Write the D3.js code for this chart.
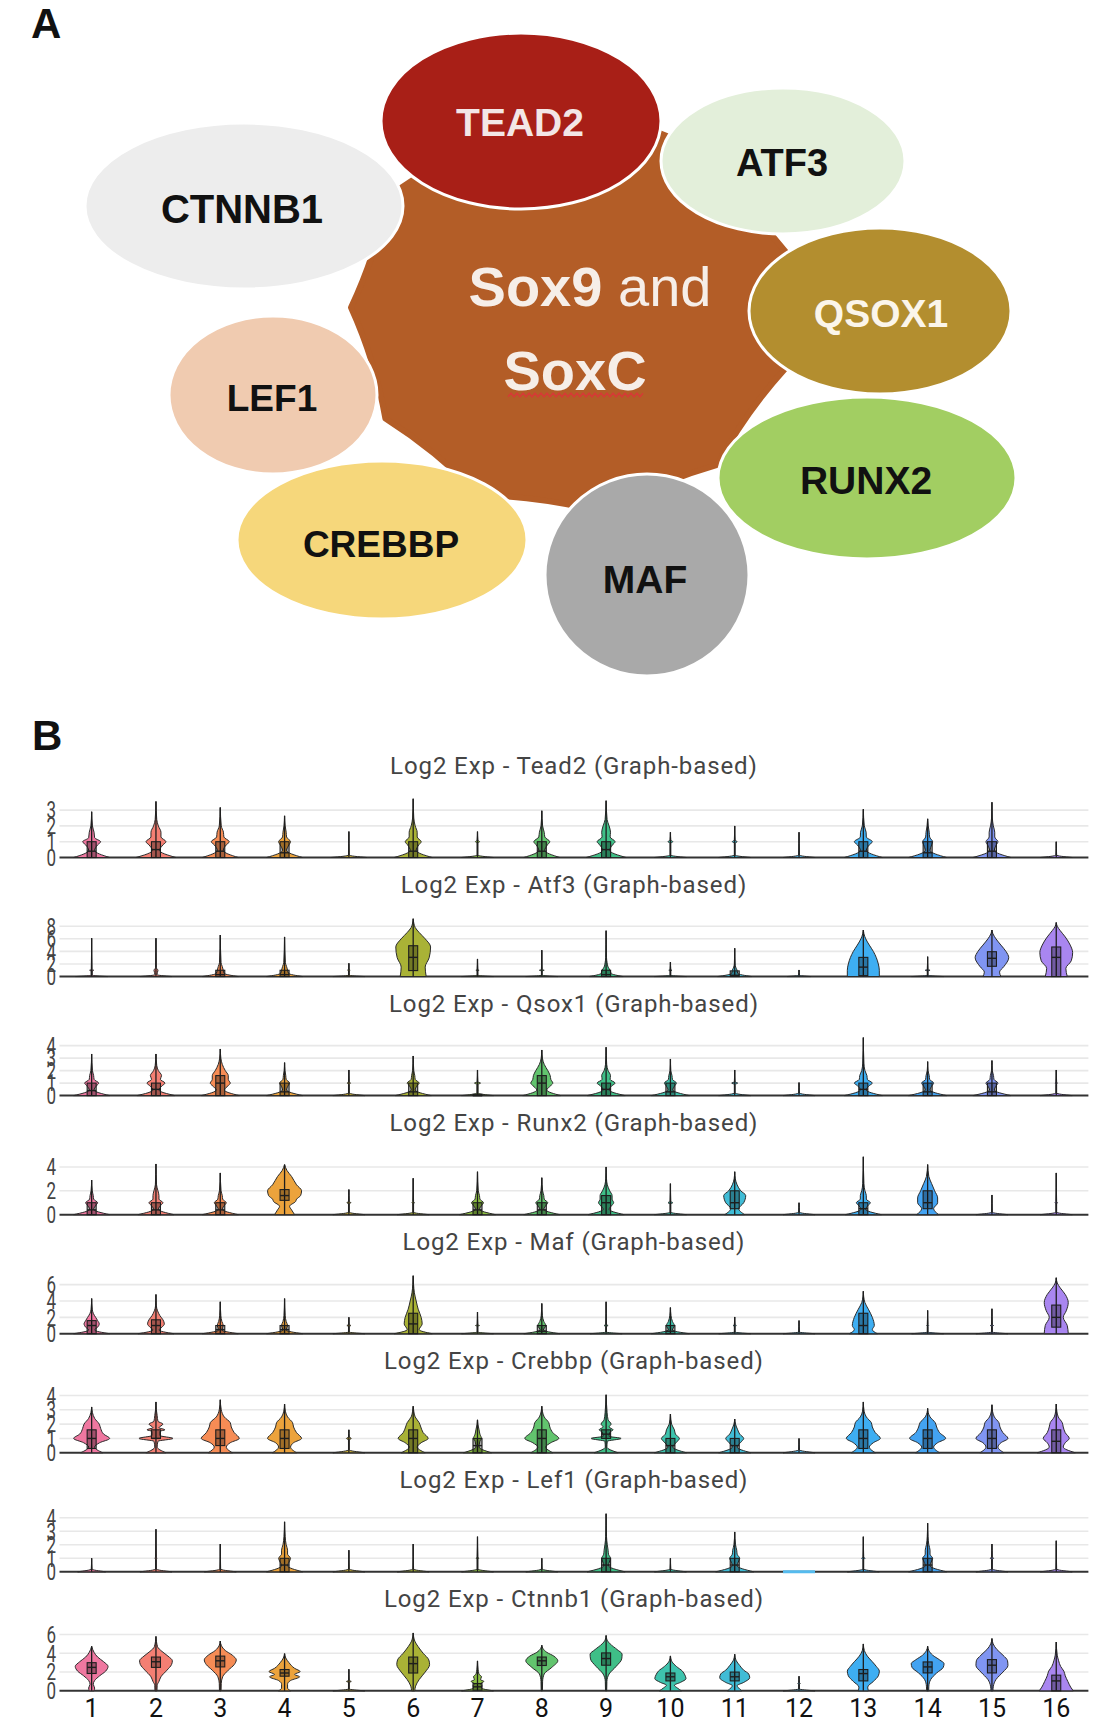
<!DOCTYPE html>
<html>
<head>
<meta charset="utf-8">
<script src="https://cdn.jsdelivr.net/npm/d3@7"></script>
<style>
body{margin:0;background:#fff}
svg{display:block}
</style>
</head>
<body>
<script>
// ---------- panel A : genes around Sox9/SoxC ----------
const hubTitle = ["Sox9", " and", "SoxC"];
const partnerGenes = ["CTNNB1", "LEF1", "CREBBP", "RUNX2", "MAF", "QSOX1", "ATF3", "TEAD2"];

// ---------- panel B : violin data ----------
const clusters = d3.range(1, 17).map(String);
const geneTitles = ["Tead2", "Atf3", "Qsox1", "Runx2", "Maf", "Crebbp", "Lef1", "Ctnnb1"];
const yTicks = [[0,1,2,3],[0,2,4,6,8],[0,1,2,3,4],[0,2,4],[0,2,4,6],[0,1,2,3,4],[0,1,2,3,4],[0,2,4,6]];
const yMax = [3.8, 9.54, 4.8, 5.03, 7.34, 4.19, 4.44, 6.39];

// each violin: [max, q1, median, q3, then pairs of (log2 value, relative half width)]
const tead2 = [
 [2.9, 0,0.4,1, 0,0.9, 0.45,0.15, 0.8,0.3, 1,0.45, 1.25,0.15, 1.6,0.12, 2,0.04],
 [3.55, 0,0.5,1, 0,1, 0.45,0.18, 0.8,0.35, 1,0.5, 1.3,0.25, 1.6,0.25, 2,0.12, 2.4,0.04],
 [3.17, 0,0.4,1, 0,0.9, 0.45,0.15, 0.8,0.3, 1,0.45, 1.3,0.18, 1.6,0.16, 2,0.05],
 [2.64, 0,0.3,1, 0,0.9, 0.45,0.1, 0.8,0.22, 1,0.3, 1.3,0.1, 1.6,0.08, 2,0.03],
 [1.64, 0,0,0, 0,0.9, 0.15,0.02],
 [3.72, 0,0.4,1, 0,0.95, 0.45,0.15, 0.8,0.28, 1,0.4, 1.3,0.2, 1.6,0.2, 2,0.1, 2.5,0.03],
 [1.64, 0,0,0, 0,0.8, 0.15,0.02, 0.9,0.02, 1,0.1, 1.1,0.02],
 [2.96, 0,0.4,1, 0,0.9, 0.45,0.15, 0.8,0.28, 1,0.4, 1.3,0.15, 1.6,0.12, 2,0.04],
 [3.6, 0,0.5,1, 0,1, 0.45,0.18, 0.8,0.32, 1,0.45, 1.3,0.2, 1.6,0.22, 2,0.15, 2.4,0.05],
 [1.6, 0,0,0, 0,0.8, 0.15,0.02, 0.9,0.02, 1,0.12, 1.1,0.02],
 [2.0, 0,0,0, 0,0.8, 0.15,0.02, 0.9,0.02, 1,0.12, 1.1,0.02],
 [1.6, 0,0,0, 0,0.8, 0.15,0.02],
 [3.06, 0,0.4,1, 0,0.95, 0.45,0.15, 0.8,0.3, 1,0.45, 1.3,0.15, 1.6,0.14, 2,0.05],
 [2.45, 0,0.3,1, 0,0.95, 0.45,0.12, 0.8,0.2, 1,0.25, 1.3,0.1, 1.6,0.08, 2,0.03],
 [3.5, 0,0.4,1, 0,0.95, 0.45,0.12, 0.8,0.22, 1,0.3, 1.3,0.14, 1.6,0.14, 2,0.07, 2.5,0.02],
 [1.0, 0,0,0, 0,0.8, 0.15,0.02]
];
const atf3 = [
 [6.1, 0,0,0, 0,0.8, 0.2,0.03, 0.9,0.03, 1,0.1, 1.1,0.02],
 [6.1, 0,0,0, 0,0.8, 0.3,0.05, 1,0.1, 1.4,0.02],
 [6.6, 0,0.3,1, 0,0.9, 0.5,0.2, 1,0.15, 1.6,0.1, 2.2,0.04],
 [6.3, 0,0.3,1, 0,0.9, 0.5,0.2, 1,0.15, 1.6,0.1, 2.2,0.04],
 [2.1, 0,0,0, 0,0.8, 0.2,0.02, 0.9,0.02, 1,0.06, 1.2,0.01],
 [9.2, 0.95,3.05,4.9, 0,0.65, 1.5,0.6, 3,0.8, 4.7,0.87, 6,0.6, 7,0.3, 7.8,0.1, 8.5,0.03],
 [2.8, 0,0,0, 0,0.8, 0.2,0.02, 0.9,0.02, 1,0.08, 1.1,0.02],
 [4.2, 0,0,0, 0,0.8, 0.2,0.02, 0.9,0.02, 1,0.12, 1.1,0.02],
 [7.3, 0,0.3,1, 0,0.85, 0.5,0.25, 1,0.2, 1.5,0.1, 2.2,0.05, 3,0.02],
 [2.3, 0,0,0, 0,0.8, 0.2,0.02, 0.9,0.02, 1,0.08, 1.1,0.02],
 [4.5, 0,0.2,0.9, 0,0.85, 0.5,0.15, 1,0.12, 1.5,0.05, 2,0.02],
 [1.05, 0,0,0, 0,0.6, 0.2,0.02],
 [7.4, 0.15,1.5,3.05, 0,0.8, 1,0.8, 2,0.75, 3,0.65, 4,0.5, 5,0.3, 6,0.12, 6.8,0.03],
 [3.16, 0,0,0, 0,0.8, 0.2,0.02, 0.9,0.02, 1,0.12, 1.1,0.02],
 [7.4, 1.63,2.9,3.95, 0,0.45, 0.7,0.38, 1.6,0.6, 3,0.84, 4,0.7, 5,0.45, 6,0.2, 6.8,0.05],
 [8.6, 0,3.05,4.7, 0,0.55, 1.3,0.48, 2.5,0.75, 3.8,0.82, 5,0.7, 6.3,0.45, 7.3,0.2, 8,0.05]
];
const qsox1 = [
 [3.33, 0,0.4,1, 0,0.9, 0.45,0.12, 0.8,0.25, 1,0.35, 1.3,0.12, 1.6,0.1, 2,0.04],
 [3.33, 0,0.5,1, 0,0.95, 0.45,0.15, 0.8,0.32, 1,0.45, 1.3,0.22, 1.6,0.28, 2,0.12, 2.4,0.04],
 [3.73, 0,1,1.6, 0,0.95, 0.45,0.2, 0.8,0.4, 1,0.5, 1.3,0.4, 1.6,0.4, 2,0.25, 2.5,0.1, 3,0.03],
 [2.64, 0,0.3,1, 0,0.9, 0.45,0.1, 0.8,0.18, 1,0.25, 1.3,0.08, 1.6,0.06, 2,0.02],
 [2.05, 0,0,0, 0,0.8, 0.2,0.02, 0.9,0.02, 1,0.08, 1.1,0.02],
 [3.17, 0,0.3,1, 0,0.9, 0.45,0.1, 0.8,0.2, 1,0.3, 1.3,0.1, 1.6,0.08, 2,0.03],
 [2.05, 0,0,0.1, 0,0.8, 0.2,0.03, 0.9,0.03, 1,0.15, 1.1,0.02],
 [3.65, 0,1,1.6, 0,0.95, 0.45,0.25, 0.8,0.45, 1,0.55, 1.3,0.45, 1.6,0.42, 2,0.3, 2.5,0.12, 3,0.03],
 [3.87, 0,0.5,1, 0,0.95, 0.45,0.15, 0.8,0.3, 1,0.45, 1.3,0.2, 1.6,0.22, 2,0.1, 2.5,0.03],
 [2.93, 0,0.3,1, 0,0.95, 0.45,0.12, 0.8,0.22, 1,0.3, 1.3,0.1, 1.6,0.08, 2,0.02],
 [2.05, 0,0,0, 0,0.8, 0.2,0.02, 0.9,0.02, 1,0.15, 1.1,0.02],
 [1.04, 0,0,0, 0,0.8, 0.2,0.02],
 [4.64, 0,0.5,1, 0,0.95, 0.45,0.15, 0.8,0.3, 1,0.45, 1.3,0.2, 1.6,0.18, 2,0.08, 2.6,0.03],
 [2.72, 0,0.3,1, 0,0.95, 0.45,0.12, 0.8,0.22, 1,0.3, 1.3,0.1, 1.6,0.08, 2,0.02],
 [2.8, 0,0.3,1, 0,0.95, 0.45,0.12, 0.8,0.22, 1,0.3, 1.3,0.1, 1.6,0.08, 2,0.02],
 [2.05, 0,0,0, 0,0.8, 0.2,0.02, 0.9,0.02, 1,0.05, 1.1,0.02]
];
const runx2 = [
 [2.9, 0,0.4,1, 0,0.9, 0.45,0.1, 0.8,0.22, 1,0.3, 1.3,0.1, 1.6,0.08, 2,0.03],
 [4.25, 0,0.4,1, 0,0.9, 0.45,0.12, 0.8,0.25, 1,0.35, 1.3,0.15, 1.6,0.15, 2,0.1, 2.5,0.03],
 [3.5, 0,0.4,1, 0,0.9, 0.45,0.1, 0.8,0.22, 1,0.3, 1.3,0.12, 1.6,0.1, 2,0.04],
 [4.2, 1.2,1.6,2.1, 0,0.5, 0.4,0.35, 0.7,0.25, 1.1,0.55, 1.3,0.6, 1.6,0.8, 2,0.85, 2.5,0.6, 3.2,0.35, 3.7,0.12],
 [2.1, 0,0,0, 0,0.8, 0.2,0.02, 0.9,0.02, 1,0.1, 1.1,0.02],
 [3.05, 0,0,0, 0,0.8, 0.2,0.02, 0.9,0.02, 1,0.06, 1.1,0.02],
 [3.6, 0,0.4,1, 0,0.9, 0.45,0.1, 0.8,0.22, 1,0.3, 1.3,0.12, 1.6,0.1, 2,0.04],
 [3.1, 0,0.4,1, 0,0.9, 0.45,0.1, 0.8,0.22, 1,0.3, 1.3,0.12, 1.6,0.1, 2,0.04],
 [4.0, 0,1,1.6, 0,0.9, 0.45,0.15, 0.8,0.3, 1,0.38, 1.3,0.3, 1.6,0.3, 2,0.18, 2.5,0.06, 3,0.02],
 [2.6, 0,0,0, 0,0.8, 0.2,0.02, 0.9,0.02, 1,0.12, 1.1,0.02],
 [3.6, 0.5,1,2, 0,0.5, 0.5,0.2, 1,0.45, 1.6,0.55, 2,0.3, 2.5,0.12, 3,0.03],
 [1.0, 0,0,0, 0,0.8, 0.2,0.02],
 [4.85, 0,0.5,1, 0,0.9, 0.45,0.12, 0.8,0.25, 1,0.35, 1.3,0.15, 1.6,0.15, 2,0.08, 2.6,0.03],
 [4.2, 0.5,1,2, 0,0.55, 0.5,0.3, 1,0.5, 1.4,0.5, 2,0.35, 2.6,0.2, 3.2,0.06],
 [1.65, 0,0,0, 0,0.8, 0.2,0.02],
 [3.5, 0,0,0, 0,0.8, 0.2,0.02, 0.9,0.02, 1,0.06, 1.1,0.02]
];
const maf = [
 [4.3, 0,1,1.6, 0,0.9, 0.45,0.15, 0.8,0.3, 1.2,0.38, 1.6,0.3, 2,0.2, 2.5,0.08, 3,0.03],
 [4.8, 0,1,1.7, 0,0.9, 0.45,0.15, 0.8,0.3, 1.2,0.42, 1.7,0.35, 2.2,0.2, 2.8,0.08, 3.4,0.02],
 [3.9, 0,0.5,1, 0,0.9, 0.45,0.08, 1,0.15, 1.5,0.08, 2.2,0.03],
 [4.3, 0,0.5,1, 0,0.9, 0.45,0.08, 1,0.15, 1.5,0.08, 2.2,0.03],
 [2.0, 0,0,0, 0,0.8, 0.2,0.02, 0.9,0.02, 1,0.1, 1.1,0.02],
 [7.1, 0,1.2,2.5, 0,0.95, 0.5,0.3, 1.2,0.45, 2,0.4, 3,0.25, 4,0.15, 5,0.06, 6,0.02],
 [2.65, 0,0,0, 0,0.8, 0.2,0.02, 0.9,0.02, 1,0.1, 1.1,0.02],
 [3.7, 0,0.3,1, 0,0.9, 0.45,0.08, 1,0.2, 1.5,0.1, 2.2,0.03],
 [3.9, 0,0,0, 0,0.8, 0.2,0.02, 0.9,0.02, 1,0.1, 1.1,0.02],
 [3.2, 0,0.3,1, 0,0.95, 0.45,0.1, 1,0.2, 1.5,0.1, 2.2,0.03],
 [2.05, 0,0,0, 0,0.8, 0.2,0.02, 0.9,0.02, 1,0.08, 1.1,0.02],
 [1.6, 0,0,0, 0,0.8, 0.2,0.02],
 [5.2, 0,1,2.5, 0,0.7, 0.5,0.45, 1,0.55, 2,0.45, 3,0.25, 3.8,0.08, 4.5,0.02],
 [2.85, 0,0,0, 0,0.8, 0.2,0.02, 0.9,0.02, 1,0.05, 1.1,0.02],
 [3.05, 0,0,0, 0,0.8, 0.2,0.02, 0.9,0.02, 1,0.08, 1.1,0.02],
 [6.85, 0.8,2,3.5, 0,0.6, 1,0.55, 2,0.35, 2.8,0.5, 3.8,0.6, 4.8,0.45, 5.6,0.2, 6.2,0.05]
];
const crebbp = [
 [3.2, 0.3,1,1.6, 0,0.55, 0.4,0.15, 0.7,0.4, 1,0.9, 1.3,0.6, 1.7,0.45, 2,0.38, 2.4,0.15, 2.8,0.04],
 [3.55, 1,1,1.6, 0,0.5, 0.4,0.06, 0.8,0.1, 1,0.85, 1.2,0.2, 1.5,0.2, 1.6,0.45, 1.75,0.15, 2,0.35, 2.2,0.1, 2.6,0.06, 3,0.02],
 [3.7, 0.5,1,1.6, 0,0.6, 0.4,0.3, 0.7,0.5, 1,0.95, 1.4,0.7, 1.8,0.55, 2.1,0.5, 2.5,0.2, 3,0.05],
 [3.4, 0.3,1,1.6, 0,0.6, 0.4,0.3, 0.7,0.45, 1,0.85, 1.4,0.6, 1.8,0.45, 2.1,0.4, 2.5,0.15, 2.9,0.04],
 [1.6, 0,0,0, 0,0.8, 0.2,0.02, 0.9,0.02, 1,0.12, 1.1,0.02],
 [3.25, 0,1,1.6, 0,0.6, 0.4,0.2, 0.7,0.4, 1,0.75, 1.4,0.5, 1.8,0.38, 2.1,0.3, 2.5,0.1, 2.9,0.03],
 [2.3, 0,0.5,1, 0,0.7, 0.4,0.08, 0.8,0.12, 1,0.2, 1.3,0.12, 1.6,0.08, 2,0.02],
 [3.25, 0,1,1.6, 0,0.55, 0.4,0.2, 0.7,0.45, 1,0.85, 1.4,0.55, 1.8,0.4, 2.1,0.35, 2.5,0.12, 2.9,0.03],
 [4.05, 1,1.3,1.6, 0,0.6, 0.4,0.04, 0.8,0.06, 1,0.75, 1.15,0.15, 1.45,0.2, 1.6,0.35, 1.8,0.15, 2,0.25, 2.3,0.1, 2.8,0.05, 3.4,0.02],
 [2.7, 0,0.5,1, 0,0.8, 0.4,0.12, 0.8,0.35, 1,0.45, 1.3,0.25, 1.6,0.2, 2,0.06],
 [2.35, 0,0.5,1, 0,0.8, 0.4,0.12, 0.8,0.35, 1,0.45, 1.3,0.25, 1.6,0.15, 2,0.04],
 [1.0, 0,0,0, 0,0.8, 0.2,0.02],
 [3.55, 0.3,1,1.6, 0,0.6, 0.4,0.3, 0.7,0.5, 1,0.85, 1.4,0.6, 1.8,0.45, 2.1,0.4, 2.5,0.15, 2.9,0.04],
 [3.1, 0.3,1,1.6, 0,0.6, 0.4,0.3, 0.7,0.5, 1,0.9, 1.4,0.6, 1.8,0.45, 2.1,0.38, 2.5,0.12, 2.8,0.03],
 [3.35, 0.3,1,1.6, 0,0.6, 0.4,0.3, 0.7,0.45, 1,0.8, 1.4,0.55, 1.8,0.4, 2.1,0.35, 2.5,0.12, 2.9,0.03],
 [3.4, 0,0.8,1.6, 0,0.95, 0.4,0.35, 0.7,0.45, 1,0.65, 1.4,0.45, 1.8,0.35, 2.1,0.3, 2.5,0.1, 2.9,0.03]
];
const lef1 = [
 [1.0, 0,0,0, 0,0.7, 0.2,0.02],
 [3.15, 0,0,0, 0,0.8, 0.2,0.02, 0.9,0.02, 1,0.04, 1.1,0.02],
 [2.05, 0,0,0, 0,0.8, 0.2,0.02],
 [3.7, 0,0.5,1, 0,0.9, 0.45,0.15, 0.8,0.25, 1,0.3, 1.3,0.15, 1.6,0.15, 2,0.08, 2.6,0.03],
 [1.6, 0,0,0, 0,0.8, 0.2,0.02],
 [2.05, 0,0,0, 0,0.8, 0.2,0.02],
 [2.6, 0,0,0, 0,0.8, 0.2,0.02, 0.9,0.02, 1,0.06, 1.1,0.02],
 [1.0, 0,0,0, 0,0.8, 0.2,0.02],
 [4.3, 0,0.5,1, 0,0.95, 0.45,0.12, 0.8,0.18, 1,0.22, 1.3,0.12, 1.6,0.1, 2,0.06, 2.6,0.02],
 [1.0, 0,0,0, 0,0.8, 0.2,0.02],
 [2.95, 0,0.5,1, 0,0.95, 0.45,0.12, 0.8,0.2, 1,0.25, 1.3,0.12, 1.6,0.1, 2,0.04],
 [0, 0,0,0, 0,0.8],
 [2.6, 0,0,0, 0,0.8, 0.2,0.02, 0.9,0.02, 1,0.08, 1.1,0.02],
 [3.6, 0,0.5,1, 0,0.95, 0.45,0.12, 0.8,0.2, 1,0.25, 1.3,0.12, 1.6,0.12, 2,0.06, 2.6,0.02],
 [2.05, 0,0,0, 0,0.8, 0.2,0.02, 0.9,0.02, 1,0.08, 1.1,0.02],
 [2.3, 0,0,0, 0,0.8, 0.2,0.02]
];
const ctnnb1 = [
 [4.75, 1.85,2.5,3.0, 0,0.12, 0.3,0.15, 0.7,0.08, 1.1,0.15, 1.6,0.4, 2.1,0.7, 2.6,0.82, 3.1,0.6, 3.6,0.3, 4.1,0.12],
 [5.8, 2.5,3.1,3.6, 0,0.05, 0.6,0.06, 1,0.15, 1.5,0.25, 2.2,0.55, 2.8,0.78, 3.2,0.82, 3.7,0.6, 4.2,0.3, 4.7,0.08],
 [5.3, 2.55,3.2,3.7, 0,0.04, 0.8,0.05, 1.5,0.12, 2.2,0.4, 2.8,0.7, 3.3,0.8, 3.8,0.6, 4.3,0.25, 4.8,0.06],
 [3.97, 1.56,1.9,2.27, 0,0.3, 0.3,0.15, 0.7,0.15, 1.1,0.3, 1.5,0.75, 1.75,0.5, 2.05,0.78, 2.4,0.5, 3,0.22, 3.5,0.06],
 [2.3, 0,0,0, 0,0.8, 0.2,0.02, 0.9,0.02, 1,0.12, 1.1,0.02],
 [6.17, 1.9,2.9,3.6, 0,0.08, 0.5,0.12, 1.2,0.3, 2,0.6, 2.8,0.82, 3.3,0.78, 4,0.5, 4.7,0.25, 5.3,0.08],
 [3.19, 0.07,0.43,0.78, 0,0.8, 0.3,0.2, 0.55,0.22, 0.75,0.15, 1,0.32, 1.2,0.15, 1.5,0.2, 1.8,0.07, 2.3,0.03],
 [4.86, 2.7,3.2,3.6, 0,0.03, 1,0.04, 1.8,0.12, 2.5,0.5, 3.2,0.8, 3.7,0.6, 4.1,0.25, 4.5,0.06],
 [5.9, 2.73,3.44,4.04, 0,0.03, 1,0.04, 1.8,0.15, 2.6,0.5, 3.4,0.78, 3.9,0.8, 4.4,0.55, 5,0.2, 5.4,0.05],
 [3.72, 1.06,1.5,1.9, 0,0.55, 0.3,0.35, 0.6,0.2, 0.9,0.5, 1.3,0.78, 1.7,0.72, 2.1,0.6, 2.6,0.3, 3.1,0.08],
 [3.9, 1.06,1.5,2.0, 0,0.35, 0.3,0.2, 0.55,0.12, 0.9,0.45, 1.4,0.75, 1.8,0.7, 2.2,0.45, 2.7,0.25, 3.2,0.08],
 [1.56, 0,0,0, 0,0.8, 0.2,0.02, 0.7,0.02, 0.8,0.06, 0.9,0.02],
 [5.0, 1.06,1.84,2.27, 0,0.25, 0.4,0.22, 1,0.5, 1.6,0.75, 2.1,0.8, 2.6,0.65, 3.1,0.45, 3.7,0.2, 4.3,0.05],
 [4.75, 1.91,2.55,3.08, 0,0.05, 0.5,0.06, 1.2,0.15, 1.9,0.45, 2.5,0.78, 2.9,0.82, 3.3,0.6, 3.8,0.25, 4.3,0.06],
 [5.57, 1.91,2.73,3.33, 0,0.05, 0.5,0.07, 1.2,0.2, 2,0.55, 2.7,0.8, 3.2,0.78, 3.8,0.55, 4.4,0.25, 5,0.06],
 [5.2, 0,1.06,1.67, 0,0.85, 0.4,0.72, 1,0.58, 1.6,0.45, 2.1,0.38, 2.6,0.22, 3.2,0.12, 3.8,0.05]
];
const geneViolins = [tead2, atf3, qsox1, runx2, maf, crebbp, lef1, ctnnb1];

const clusterColors = ["#ef77a0","#f47f73","#f68c55","#eca33c","#cdb136","#a9b236","#8dc043","#62c46e",
                       "#3fbf87","#3ec3ad","#40bcd6","#55bbee","#3eaef2","#43a3f2","#8095f2","#a986f0"];

const W = 1102, H = 1724;
const svg = d3.select("body").append("svg")
  .attr("width", W).attr("height", H)
  .style("background", "#fff");

// ================= panel A =================
svg.append("text").attr("x", 31).attr("y", 38)
  .attr("font-family", "Liberation Sans, Arial, sans-serif").attr("font-weight", "bold")
  .attr("font-size", 42).attr("fill", "#111").text("A");

const gA = svg.append("g");

// softly scalloped hub shape behind the bubbles
const hub = {cx: 573, cy: 309, rx: 222, ry: 205, n: 11};
const hubPts = d3.range(hub.n).map(k => {
  const a = -Math.PI / 2 + 0.15 + k * 2 * Math.PI / hub.n;
  return [hub.cx + hub.rx * Math.cos(a), hub.cy + hub.ry * Math.sin(a)];
});
const hubPath = d3.path();
hubPath.moveTo(hubPts[0][0], hubPts[0][1]);
hubPts.forEach((p, k) => {
  const q = hubPts[(k + 1) % hub.n];
  const mx = (p[0] + q[0]) / 2, my = (p[1] + q[1]) / 2;
  hubPath.quadraticCurveTo(mx + (hub.cx - mx) * 0.035, my + (hub.cy - my) * 0.035, q[0], q[1]);
});
hubPath.closePath();
gA.append("path").attr("d", hubPath.toString()).attr("fill", "#b35d27")
  .attr("stroke", "#b35d27").attr("stroke-width", 6).attr("stroke-linejoin", "round");

// bubble layout (drawn in this order)
const bubbleLayout = {
  CTNNB1: {cx: 244, cy: 206, rx: 159, ry: 83, fill: "#ededed", ink: "#111", fs: 40, tx: 242, ty: 223},
  LEF1:   {cx: 273, cy: 395, rx: 104, ry: 79, fill: "#f0cbb0", ink: "#111", fs: 37, tx: 272, ty: 411},
  CREBBP: {cx: 382, cy: 540, rx: 145, ry: 79, fill: "#f6d77b", ink: "#111", fs: 37, tx: 381, ty: 557},
  RUNX2:  {cx: 867, cy: 478, rx: 149, ry: 81, fill: "#a2ce62", ink: "#111", fs: 39, tx: 866, ty: 494},
  MAF:    {cx: 647, cy: 575, rx: 102, ry: 101, fill: "#a9a9a9", ink: "#111", fs: 39, tx: 645, ty: 593},
  QSOX1:  {cx: 880, cy: 311, rx: 131, ry: 83, fill: "#b38e2f", ink: "#fbf5ea", fs: 39, tx: 881, ty: 327},
  ATF3:   {cx: 783, cy: 161, rx: 122, ry: 73, fill: "#e3efda", ink: "#111", fs: 38, tx: 782, ty: 176},
  TEAD2:  {cx: 521, cy: 121, rx: 140, ry: 88, fill: "#a81f17", ink: "#f3e6e6", fs: 39, tx: 520, ty: 136}
};

const bubbles = gA.selectAll(".bubble").data(partnerGenes).enter().append("g").attr("class", "bubble");
bubbles.append("ellipse")
  .attr("cx", d => bubbleLayout[d].cx).attr("cy", d => bubbleLayout[d].cy)
  .attr("rx", d => bubbleLayout[d].rx).attr("ry", d => bubbleLayout[d].ry)
  .attr("fill", d => bubbleLayout[d].fill)
  .attr("stroke", "#fff").attr("stroke-width", 3);
bubbles.append("text")
  .attr("x", d => bubbleLayout[d].tx).attr("y", d => bubbleLayout[d].ty)
  .attr("text-anchor", "middle")
  .attr("font-family", "Liberation Sans, Arial, sans-serif").attr("font-weight", "bold")
  .attr("font-size", d => bubbleLayout[d].fs).attr("fill", d => bubbleLayout[d].ink)
  .text(d => d);

// hub label
const hubText = gA.append("text").attr("x", 590).attr("y", 306).attr("text-anchor", "middle")
  .attr("font-family", "Liberation Sans, Arial, sans-serif").attr("font-size", 56).attr("fill", "#f6eee8");
hubText.append("tspan").attr("font-weight", "bold").text(hubTitle[0]);
hubText.append("tspan").attr("font-weight", "normal").text(hubTitle[1]);
gA.append("text").attr("x", 575).attr("y", 390).attr("text-anchor", "middle")
  .attr("font-family", "Liberation Sans, Arial, sans-serif").attr("font-weight", "bold")
  .attr("font-size", 56).attr("fill", "#f6eee8").text(hubTitle[2]);
// spell-check squiggle under SoxC
const squig = d3.range(508, 644, 3).map((x, i) => [x, 395 + (i % 2 ? -1.8 : 1.8)]);
gA.append("path").attr("d", d3.line()(squig)).attr("fill", "none")
  .attr("stroke", "#d63a36").attr("stroke-width", 1.4);

// ================= panel B =================
svg.append("text").attr("x", 32).attr("y", 750)
  .attr("font-family", "Liberation Sans, Arial, sans-serif").attr("font-weight", "bold")
  .attr("font-size", 42).attr("fill", "#111").text("B");

const plotLeft = 59.5, plotRight = 1088.4, plotH = 60, halfW = 20;
const x = d3.scalePoint().domain(clusters).range([plotLeft, plotRight]).padding(0.5);

geneTitles.forEach((gene, gi) => {
  const base = 857.5 + gi * 119.05;
  const y = d3.scaleLinear().domain([0, yMax[gi]]).range([base, base - plotH]);
  const g = svg.append("g");

  g.append("text").attr("x", (plotLeft + plotRight) / 2).attr("y", base - 84)
    .attr("text-anchor", "middle").attr("font-family", "Roboto, sans-serif")
    .attr("font-size", 24).attr("letter-spacing", 0.9).attr("fill", "#444")
    .text("Log2 Exp - " + gene + " (Graph-based)");

  // gridlines
  g.selectAll(".grid").data(yTicks[gi].filter(t => t > 0)).enter().append("line")
    .attr("x1", plotLeft).attr("x2", plotRight)
    .attr("y1", d => y(d)).attr("y2", d => y(d))
    .attr("stroke", "#e8e8e8").attr("stroke-width", 1.6);

  // y tick labels (narrow, packed tightly as in the source)
  g.selectAll(".ylab").data(yTicks[gi]).enter().append("text")
    .attr("transform", d => `translate(56,${y(d)}) scale(0.74,1)`)
    .attr("text-anchor", "end").attr("dy", "0.36em")
    .attr("font-family", "Roboto, sans-serif").attr("font-size", 23).attr("fill", "#444")
    .text(d => d);

  // zero line
  g.append("line").attr("x1", plotLeft).attr("x2", plotRight)
    .attr("y1", y(0)).attr("y2", y(0)).attr("stroke", "#333").attr("stroke-width", 2);

  const area = d3.area().curve(d3.curveMonotoneY).y(d => y(d.v));

  geneViolins[gi].forEach((row, ci) => {
    const cx = x(clusters[ci]);
    const [mx, q1, med, q3] = row;
    const knots = [];
    for (let k = 4; k < row.length; k += 2) knots.push({v: row[k], w: row[k + 1]});
    const col = clusterColors[ci];
    const vg = g.append("g");

    if (mx === 0) {
      vg.append("line").attr("x1", cx - knots[0].w * halfW).attr("x2", cx + knots[0].w * halfW)
        .attr("y1", y(0)).attr("y2", y(0)).attr("stroke", col).attr("stroke-width", 3);
      return;
    }
    if (knots[knots.length - 1].v < mx) knots.push({v: mx, w: 0});
    area.x0(d => cx - d.w * halfW).x1(d => cx + d.w * halfW);
    vg.append("path").attr("d", area(knots))
      .attr("fill", col).attr("stroke", "#2b2b2b").attr("stroke-width", 1)
      .attr("stroke-linejoin", "round");

    // whisker
    vg.append("line").attr("x1", cx).attr("x2", cx).attr("y1", y(0)).attr("y2", y(mx))
      .attr("stroke", "#1e1e1e").attr("stroke-width", 1.3);

    if (q3 > q1) {
      vg.append("rect").attr("x", cx - 4.5).attr("width", 9)
        .attr("y", y(q3)).attr("height", Math.max(1, y(q1) - y(q3)))
        .attr("fill", "rgba(0,0,0,0.32)").attr("stroke", "#1e1e1e").attr("stroke-width", 1.1);
      vg.append("line").attr("x1", cx - 4.5).attr("x2", cx + 4.5)
        .attr("y1", y(med)).attr("y2", y(med)).attr("stroke", "#1e1e1e").attr("stroke-width", 1.4);
    }
  });

  if (gi === geneTitles.length - 1) {
    g.selectAll(".xlab").data(clusters).enter().append("text")
      .attr("x", d => x(d)).attr("y", base + 26)
      .attr("text-anchor", "middle").attr("font-family", "Roboto, sans-serif")
      .attr("font-size", 25).attr("fill", "#111").text(d => d);
  }
});
</script>
</body>
</html>
